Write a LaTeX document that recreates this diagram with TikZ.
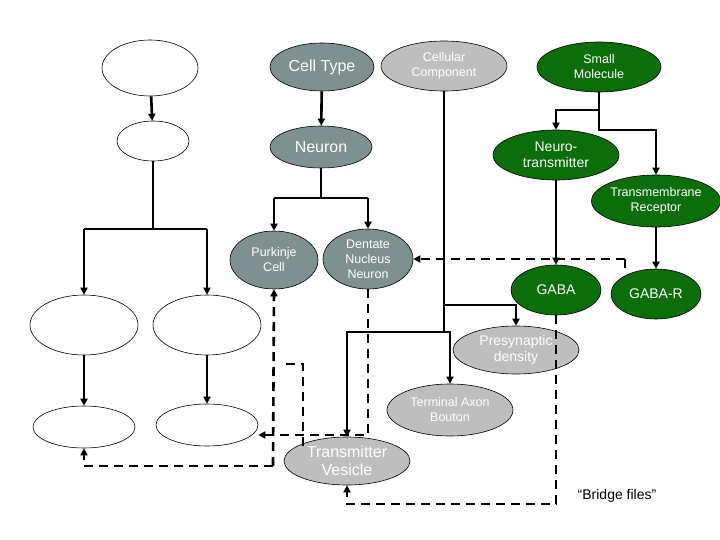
\documentclass[tikz,border=0pt]{standalone}
\usepackage{fontspec}
\setmainfont{Liberation Sans}
\usetikzlibrary{shapes.geometric,arrows.meta}
\definecolor{slate}{HTML}{7F9090}
\definecolor{lgray}{HTML}{BEBEBE}
\definecolor{dgreen}{HTML}{0B6E0B}
\begin{document}
\begin{tikzpicture}[x=1pt,y=-1pt,
  e/.style args={#1/#2}{ellipse,draw=black,line width=0.6pt,inner sep=0pt,minimum width=#1pt,minimum height=#2pt,align=center,text=white},
  sl/.style={fill=slate},
  lg/.style={fill=lgray},
  gr/.style={fill=dgreen},
  wh/.style={fill=white},
  big/.style={font=\fontsize{16}{18}\selectfont},
  mid/.style={font=\fontsize{14}{16}\selectfont},
  sm/.style={font=\fontsize{12.5}{15}\selectfont},
  c/.style={line width=2.6pt,-{Triangle[length=7pt,width=7pt]}},
  cl/.style={line width=2.6pt},
  d/.style={line width=2.6pt,dash pattern=on 9pt off 6pt,-{Triangle[length=7pt,width=7pt]}},
  dl/.style={line width=2.6pt,dash pattern=on 9pt off 6pt}]
\useasboundingbox (0,0) rectangle (720,540);
\node[e=96/56,wh] (b1) at (150,68) {};
\node[e=72/40,wh] (b2) at (153,141) {};
\node[e=104/48,sl,big] (ct) at (322,67) {Cell Type};
\node[e=126/50,lg,sm] (cc) at (444,66) {Cellular\\Component};
\node[e=124/50,gr,sm] (smol) at (599,67) {Small\\Molecule};
\node[e=102/42,sl,big] (neu) at (321,147) {Neuron};
\node[e=126/50,gr,mid] (nt) at (556,155) {Neuro-\\transmitter};
\node[e=126/52,gr,sm] (tr) at (656,201) {Transmembrane\\Receptor};
\node[e=88/58,sl,sm] (pk) at (274,260) {Purkinje\\Cell};
\node[e=90/60,sl,sm] (dn) at (368,259) {Dentate\\Nucleus\\Neuron};
\node[e=90/50,gr,mid] (gaba) at (556,290) {GABA};
\node[e=90/50,gr,mid] (gabar) at (656,294) {GABA-R};
\node[e=126/48,lg,mid] (pd) at (516,350) {Presynaptic\\density};
\node[e=126/52,lg,sm] (tab) at (450,410) {Terminal Axon\\Bouton};
\node[e=126/48,lg,big] (tv) at (347,461) {Transmitter\\Vesicle};
\node[e=108/60,wh] (l1) at (84,325) {};
\node[e=108/60,wh] (l2) at (207,325) {};
\node[e=102/42,wh] (s1) at (84,427) {};
\node[e=102/42,wh] (s2) at (207,425) {};
\node[mid,anchor=center] (bf) at (617,496) {“Bridge files”};
% solid
\draw[c] (b1) -- (b2);
\draw[cl] (b2.south) -- (153,229) coordinate (j1);
\draw[c] (l1.north|-j1) -- (l1.north);
\draw[c] (l2.north|-j1) -- (l2.north);
\draw[cl] (l1.north|-j1) -- (l2.north|-j1);
\draw[c] (l1) -- (s1);
\draw[c] (l2) -- (s2);
\draw[c] (ct) -- (neu);
\draw[cl] (neu.south) -- (321,198) coordinate (j2);
\draw[cl] (pk.north|-j2) -- (dn.north|-j2);
\draw[c] (pk.north|-j2) -- (pk.north);
\draw[c] (dn.north|-j2) -- (dn.north);
\draw[cl] (smol.south) -- (599,110) coordinate (j3);
\draw[c] (j3) -| (nt.north);
\draw[c] (j3) -- (599,130) -| (tr.north);
\draw[c] (nt) -- (gaba);
\draw[c] (tr) -- (gabar);
\draw[cl] (cc.south) -- (444,332) coordinate (j4);
\draw[c] (444,305) -| (pd.north);
\draw[c] (j4) -| (tv.north);
\draw[c] (j4) -| (tab.north);
% dashed
\draw[line width=1.2pt] (625,268) -- (625,259);
\draw[d] (625,259) -- (dn.east);
\draw[d] (gaba.south) -- (556,504) -| (tv.south);
\draw[d] (dn.south) -- (368,435) coordinate (j5) -- (s2.east|-j5) ;
\draw[d] (273,466) -- (pk.south);
\draw[d] (273,466) -- (84,466) -- (s1.south);
\draw[dl] (303,446) -- (303,364) -- (281,364);
\end{tikzpicture}
\end{document}
